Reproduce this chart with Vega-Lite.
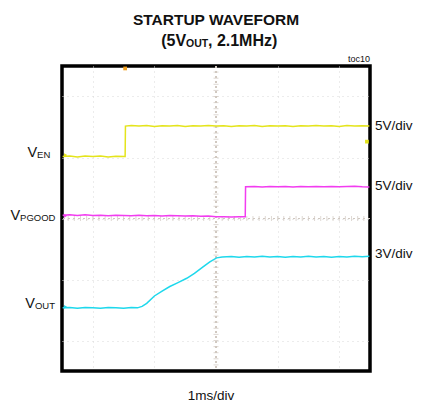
{
  "$schema": "https://vega.github.io/schema/vega-lite/v6.json",
  "width": 308,
  "height": 305,
  "autosize": "none",
  "padding": {"left": 62, "top": 66, "right": 76, "bottom": 37},
  "background": "white",
  "config": {
    "view": {"stroke": "black", "strokeWidth": 3.5},
    "font": "Liberation Sans",
    "text": {"font": "Liberation Sans", "color": "#111111"}
  },
  "datasets": {
    "traces": [
      {"ch": "EN", "t": 0.02, "v": 7.03}, {"ch": "EN", "t": 0.25, "v": 7.05}, {"ch": "EN", "t": 0.5, "v": 7.02}, {"ch": "EN", "t": 0.75, "v": 7.05}, {"ch": "EN", "t": 1.0, "v": 7.03}, {"ch": "EN", "t": 1.25, "v": 7.05}, {"ch": "EN", "t": 1.5, "v": 7.02}, {"ch": "EN", "t": 1.75, "v": 7.04}, {"ch": "EN", "t": 2.05, "v": 7.03},
      {"ch": "EN", "t": 2.06, "v": 8.03}, {"ch": "EN", "t": 2.25, "v": 8.05}, {"ch": "EN", "t": 2.5, "v": 8.03}, {"ch": "EN", "t": 2.75, "v": 8.05}, {"ch": "EN", "t": 3.0, "v": 8.02}, {"ch": "EN", "t": 3.25, "v": 8.04}, {"ch": "EN", "t": 3.5, "v": 8.03}, {"ch": "EN", "t": 3.75, "v": 8.05}, {"ch": "EN", "t": 4.0, "v": 8.02}, {"ch": "EN", "t": 4.25, "v": 8.04}, {"ch": "EN", "t": 4.5, "v": 8.03}, {"ch": "EN", "t": 4.75, "v": 8.05}, {"ch": "EN", "t": 5.0, "v": 8.03}, {"ch": "EN", "t": 5.25, "v": 8.04}, {"ch": "EN", "t": 5.5, "v": 8.02}, {"ch": "EN", "t": 5.75, "v": 8.04}, {"ch": "EN", "t": 6.0, "v": 8.03}, {"ch": "EN", "t": 6.25, "v": 8.05}, {"ch": "EN", "t": 6.5, "v": 8.02}, {"ch": "EN", "t": 6.75, "v": 8.04}, {"ch": "EN", "t": 7.0, "v": 8.03}, {"ch": "EN", "t": 7.25, "v": 8.04}, {"ch": "EN", "t": 7.5, "v": 8.02}, {"ch": "EN", "t": 7.75, "v": 8.04}, {"ch": "EN", "t": 8.0, "v": 8.03}, {"ch": "EN", "t": 8.25, "v": 8.05}, {"ch": "EN", "t": 8.5, "v": 8.03}, {"ch": "EN", "t": 8.75, "v": 8.04}, {"ch": "EN", "t": 9.0, "v": 8.02}, {"ch": "EN", "t": 9.25, "v": 8.05}, {"ch": "EN", "t": 9.5, "v": 8.03}, {"ch": "EN", "t": 9.75, "v": 8.04}, {"ch": "EN", "t": 9.98, "v": 8.03},
      {"ch": "PG", "t": 0.02, "v": 5.11}, {"ch": "PG", "t": 0.25, "v": 5.12}, {"ch": "PG", "t": 0.5, "v": 5.1}, {"ch": "PG", "t": 0.75, "v": 5.12}, {"ch": "PG", "t": 1.0, "v": 5.1}, {"ch": "PG", "t": 1.25, "v": 5.11}, {"ch": "PG", "t": 1.5, "v": 5.09}, {"ch": "PG", "t": 1.75, "v": 5.11}, {"ch": "PG", "t": 2.0, "v": 5.1}, {"ch": "PG", "t": 2.25, "v": 5.09}, {"ch": "PG", "t": 2.5, "v": 5.11}, {"ch": "PG", "t": 2.75, "v": 5.09}, {"ch": "PG", "t": 3.0, "v": 5.1}, {"ch": "PG", "t": 3.25, "v": 5.08}, {"ch": "PG", "t": 3.5, "v": 5.1}, {"ch": "PG", "t": 3.75, "v": 5.09}, {"ch": "PG", "t": 4.0, "v": 5.08}, {"ch": "PG", "t": 4.25, "v": 5.09}, {"ch": "PG", "t": 4.5, "v": 5.07}, {"ch": "PG", "t": 4.75, "v": 5.08}, {"ch": "PG", "t": 5.0, "v": 5.06}, {"ch": "PG", "t": 5.25, "v": 5.06}, {"ch": "PG", "t": 5.5, "v": 5.05}, {"ch": "PG", "t": 5.75, "v": 5.06}, {"ch": "PG", "t": 5.95, "v": 5.06},
      {"ch": "PG", "t": 5.96, "v": 6.04}, {"ch": "PG", "t": 6.25, "v": 6.05}, {"ch": "PG", "t": 6.5, "v": 6.03}, {"ch": "PG", "t": 6.75, "v": 6.05}, {"ch": "PG", "t": 7.0, "v": 6.04}, {"ch": "PG", "t": 7.25, "v": 6.05}, {"ch": "PG", "t": 7.5, "v": 6.03}, {"ch": "PG", "t": 7.75, "v": 6.05}, {"ch": "PG", "t": 8.0, "v": 6.04}, {"ch": "PG", "t": 8.25, "v": 6.05}, {"ch": "PG", "t": 8.5, "v": 6.04}, {"ch": "PG", "t": 8.75, "v": 6.05}, {"ch": "PG", "t": 9.0, "v": 6.04}, {"ch": "PG", "t": 9.25, "v": 6.05}, {"ch": "PG", "t": 9.5, "v": 6.06}, {"ch": "PG", "t": 9.75, "v": 6.04}, {"ch": "PG", "t": 9.98, "v": 6.03},
      {"ch": "OUT", "t": 0.02, "v": 2.07}, {"ch": "OUT", "t": 0.25, "v": 2.08}, {"ch": "OUT", "t": 0.5, "v": 2.06}, {"ch": "OUT", "t": 0.75, "v": 2.08}, {"ch": "OUT", "t": 1.0, "v": 2.07}, {"ch": "OUT", "t": 1.25, "v": 2.06}, {"ch": "OUT", "t": 1.5, "v": 2.08}, {"ch": "OUT", "t": 1.75, "v": 2.07}, {"ch": "OUT", "t": 2.0, "v": 2.06}, {"ch": "OUT", "t": 2.25, "v": 2.08}, {"ch": "OUT", "t": 2.45, "v": 2.07}, {"ch": "OUT", "t": 2.6, "v": 2.12}, {"ch": "OUT", "t": 2.75, "v": 2.22}, {"ch": "OUT", "t": 3.0, "v": 2.46}, {"ch": "OUT", "t": 3.25, "v": 2.62}, {"ch": "OUT", "t": 3.5, "v": 2.77}, {"ch": "OUT", "t": 3.75, "v": 2.89}, {"ch": "OUT", "t": 4.05, "v": 3.04}, {"ch": "OUT", "t": 4.3, "v": 3.2}, {"ch": "OUT", "t": 4.59, "v": 3.42}, {"ch": "OUT", "t": 4.8, "v": 3.58}, {"ch": "OUT", "t": 5.02, "v": 3.71}, {"ch": "OUT", "t": 5.2, "v": 3.74}, {"ch": "OUT", "t": 5.5, "v": 3.75}, {"ch": "OUT", "t": 5.75, "v": 3.73}, {"ch": "OUT", "t": 6.0, "v": 3.75}, {"ch": "OUT", "t": 6.25, "v": 3.74}, {"ch": "OUT", "t": 6.5, "v": 3.76}, {"ch": "OUT", "t": 6.75, "v": 3.74}, {"ch": "OUT", "t": 7.0, "v": 3.75}, {"ch": "OUT", "t": 7.25, "v": 3.73}, {"ch": "OUT", "t": 7.5, "v": 3.75}, {"ch": "OUT", "t": 7.75, "v": 3.74}, {"ch": "OUT", "t": 8.0, "v": 3.76}, {"ch": "OUT", "t": 8.25, "v": 3.74}, {"ch": "OUT", "t": 8.5, "v": 3.75}, {"ch": "OUT", "t": 8.75, "v": 3.73}, {"ch": "OUT", "t": 9.0, "v": 3.75}, {"ch": "OUT", "t": 9.25, "v": 3.74}, {"ch": "OUT", "t": 9.5, "v": 3.76}, {"ch": "OUT", "t": 9.75, "v": 3.75}, {"ch": "OUT", "t": 9.98, "v": 3.76}
    ],
    "markers": [
      {"ch": "EN", "t": 0.12, "v": 7.08, "shape": "triangle-right"},
      {"ch": "PG", "t": 0.12, "v": 5.09, "shape": "triangle-right"},
      {"ch": "OUT", "t": 0.12, "v": 2.1, "shape": "triangle-right"},
      {"ch": "EN", "t": 9.9, "v": 7.52, "shape": "square"},
      {"ch": "TRIG", "t": 2.05, "v": 9.92, "shape": "square"}
    ],
    "minor": [
      {"p": 0.2}, {"p": 0.4}, {"p": 0.6}, {"p": 0.8}, {"p": 1.2}, {"p": 1.4}, {"p": 1.6}, {"p": 1.8},
      {"p": 2.2}, {"p": 2.4}, {"p": 2.6}, {"p": 2.8}, {"p": 3.2}, {"p": 3.4}, {"p": 3.6}, {"p": 3.8},
      {"p": 4.2}, {"p": 4.4}, {"p": 4.6}, {"p": 4.8}, {"p": 5.2}, {"p": 5.4}, {"p": 5.6}, {"p": 5.8},
      {"p": 6.2}, {"p": 6.4}, {"p": 6.6}, {"p": 6.8}, {"p": 7.2}, {"p": 7.4}, {"p": 7.6}, {"p": 7.8},
      {"p": 8.2}, {"p": 8.4}, {"p": 8.6}, {"p": 8.8}, {"p": 9.2}, {"p": 9.4}, {"p": 9.6}, {"p": 9.8},
      {"p": 1}, {"p": 2}, {"p": 3}, {"p": 4}, {"p": 6}, {"p": 7}, {"p": 8}, {"p": 9}
    ],
    "labels": [
      {"txt": "STARTUP WAVEFORM", "x": 5.0, "y": 11.33, "k": "t1"},
      {"txt": "(5V", "x": 4.03, "y": 10.66, "k": "t2r"},
      {"txt": "OUT", "x": 4.03, "y": 10.61, "k": "t2s"},
      {"txt": ", 2.1MHz)", "x": 4.74, "y": 10.66, "k": "t2l"},
      {"txt": "toc10", "x": 10.0, "y": 10.12, "k": "toc"},
      {"txt": "5V/div", "x": 10.16, "y": 7.9, "k": "r"},
      {"txt": "5V/div", "x": 10.16, "y": 5.93, "k": "r"},
      {"txt": "3V/div", "x": 10.16, "y": 3.7, "k": "r"},
      {"txt": "1ms/div", "x": 4.84, "y": -0.95, "k": "b"},
      {"txt": "V", "x": -0.81, "y": 7.02, "k": "vm"},
      {"txt": "EN", "x": -0.81, "y": 6.99, "k": "vs"},
      {"txt": "V", "x": -1.36, "y": 4.95, "k": "vm"},
      {"txt": "PGOOD", "x": -1.36, "y": 4.91, "k": "vs"},
      {"txt": "V", "x": -0.88, "y": 2.07, "k": "vm"},
      {"txt": "OUT", "x": -0.88, "y": 2.03, "k": "vs"}
    ]
  },
  "layer": [
    {
      "data": {"name": "minor"},
      "transform": [{"filter": "datum.p == 1"}],
      "mark": {"type": "rule", "opacity": 0},
      "encoding": {
        "x": {"field": "p", "type": "quantitative", "scale": {"domain": [0, 10], "nice": false, "zero": false},
          "axis": {"values": [1, 2, 3, 4, 5, 6, 7, 8, 9], "labels": false, "ticks": false, "domain": false, "title": null,
            "grid": true, "gridColor": "#d8d8d8", "gridDash": [1, 4], "gridWidth": 1}},
        "y": {"field": "p", "type": "quantitative", "scale": {"domain": [0, 10], "nice": false, "zero": false},
          "axis": {"values": [1, 2, 3, 4, 5, 6, 7, 8, 9], "labels": false, "ticks": false, "domain": false, "title": null,
            "grid": true, "gridColor": "#d8d8d8", "gridDash": [1, 4], "gridWidth": 1}}
      }
    },
    {
      "data": {"name": "minor"},
      "mark": {"type": "tick", "orient": "vertical", "size": 5, "thickness": 1, "color": "#d0c8c0"},
      "encoding": {"x": {"field": "p", "type": "quantitative"}, "y": {"datum": 5}}
    },
    {
      "data": {"name": "minor"},
      "mark": {"type": "tick", "orient": "horizontal", "size": 5, "thickness": 1, "color": "#d0c8c0"},
      "encoding": {"y": {"field": "p", "type": "quantitative"}, "x": {"datum": 5}}
    },
    {
      "data": {"name": "minor"},
      "mark": {"type": "rule", "color": "#d0c8c0", "strokeWidth": 1, "strokeDash": [2, 3]},
      "encoding": {"x": {"datum": 5}}
    },
    {
      "data": {"name": "minor"},
      "mark": {"type": "rule", "color": "#d0c8c0", "strokeWidth": 1, "strokeDash": [2, 3]},
      "encoding": {"y": {"datum": 5}}
    },
    {
      "data": {"name": "traces"},
      "mark": {"type": "line", "strokeWidth": 1.5, "interpolate": "linear"},
      "encoding": {
        "x": {"field": "t", "type": "quantitative"},
        "y": {"field": "v", "type": "quantitative"},
        "detail": {"field": "ch"},
        "color": {"field": "ch", "type": "nominal", "legend": null,
          "scale": {"domain": ["EN", "PG", "OUT", "TRIG"], "range": ["#e4e41c", "#f23cf0", "#1ed8ec", "#f0a020"]}}
      }
    },
    {
      "data": {"name": "markers"},
      "mark": {"type": "point", "filled": true, "size": 14, "opacity": 1},
      "encoding": {
        "x": {"field": "t", "type": "quantitative"},
        "y": {"field": "v", "type": "quantitative"},
        "shape": {"field": "shape", "type": "nominal", "legend": null, "scale": {"domain": ["triangle-right", "square"], "range": ["triangle-right", "square"]}},
        "color": {"field": "ch", "type": "nominal", "legend": null}
      }
    },
    {
      "data": {"name": "labels"},
      "transform": [{"filter": "datum.k == 't1'"}],
      "mark": {"type": "text", "fontWeight": "bold", "fontSize": 15.5, "align": "center", "baseline": "alphabetic"},
      "encoding": {"x": {"field": "x", "type": "quantitative"}, "y": {"field": "y", "type": "quantitative"}, "text": {"field": "txt"}}
    },
    {
      "data": {"name": "labels"},
      "transform": [{"filter": "datum.k == 't2r'"}],
      "mark": {"type": "text", "fontWeight": "bold", "fontSize": 16, "align": "right", "baseline": "alphabetic"},
      "encoding": {"x": {"field": "x", "type": "quantitative"}, "y": {"field": "y", "type": "quantitative"}, "text": {"field": "txt"}}
    },
    {
      "data": {"name": "labels"},
      "transform": [{"filter": "datum.k == 't2s'"}],
      "mark": {"type": "text", "fontWeight": "bold", "fontSize": 10.5, "align": "left", "baseline": "alphabetic"},
      "encoding": {"x": {"field": "x", "type": "quantitative"}, "y": {"field": "y", "type": "quantitative"}, "text": {"field": "txt"}}
    },
    {
      "data": {"name": "labels"},
      "transform": [{"filter": "datum.k == 't2l'"}],
      "mark": {"type": "text", "fontWeight": "bold", "fontSize": 16, "align": "left", "baseline": "alphabetic"},
      "encoding": {"x": {"field": "x", "type": "quantitative"}, "y": {"field": "y", "type": "quantitative"}, "text": {"field": "txt"}}
    },
    {
      "data": {"name": "labels"},
      "transform": [{"filter": "datum.k == 'toc'"}],
      "mark": {"type": "text", "fontSize": 9, "align": "right", "baseline": "alphabetic"},
      "encoding": {"x": {"field": "x", "type": "quantitative"}, "y": {"field": "y", "type": "quantitative"}, "text": {"field": "txt"}}
    },
    {
      "data": {"name": "labels"},
      "transform": [{"filter": "datum.k == 'r'"}],
      "mark": {"type": "text", "fontSize": 13.5, "align": "left", "baseline": "alphabetic"},
      "encoding": {"x": {"field": "x", "type": "quantitative"}, "y": {"field": "y", "type": "quantitative"}, "text": {"field": "txt"}}
    },
    {
      "data": {"name": "labels"},
      "transform": [{"filter": "datum.k == 'b'"}],
      "mark": {"type": "text", "fontSize": 13.5, "align": "center", "baseline": "alphabetic"},
      "encoding": {"x": {"field": "x", "type": "quantitative"}, "y": {"field": "y", "type": "quantitative"}, "text": {"field": "txt"}}
    },
    {
      "data": {"name": "labels"},
      "transform": [{"filter": "datum.k == 'vm'"}],
      "mark": {"type": "text", "fontSize": 14.5, "align": "right", "baseline": "alphabetic"},
      "encoding": {"x": {"field": "x", "type": "quantitative"}, "y": {"field": "y", "type": "quantitative"}, "text": {"field": "txt"}}
    },
    {
      "data": {"name": "labels"},
      "transform": [{"filter": "datum.k == 'vs'"}],
      "mark": {"type": "text", "fontSize": 9.5, "align": "left", "baseline": "alphabetic"},
      "encoding": {"x": {"field": "x", "type": "quantitative"}, "y": {"field": "y", "type": "quantitative"}, "text": {"field": "txt"}}
    }
  ]
}
